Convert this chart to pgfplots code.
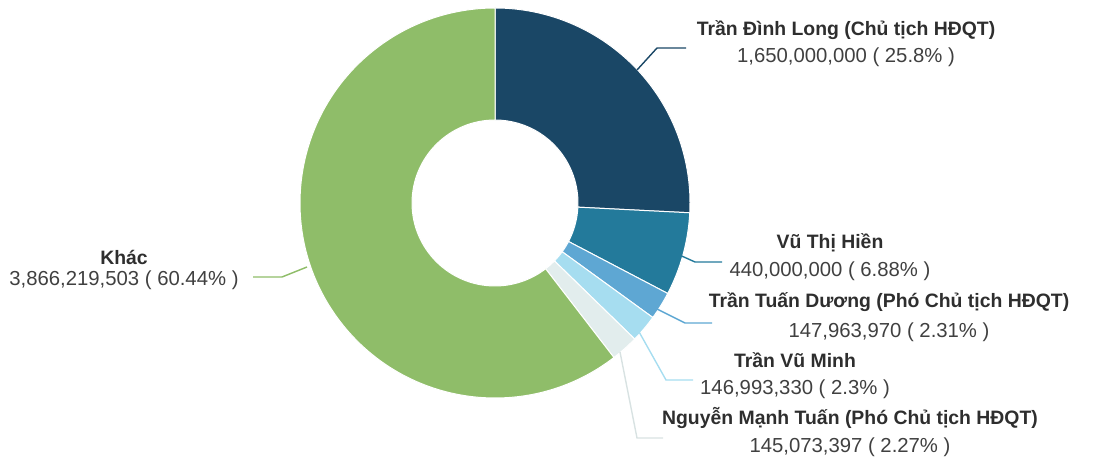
\documentclass[border=0pt]{standalone}
\usepackage{pgfplots}
\pgfplotsset{compat=1.18}
\usepackage{pgfplotstable}
\usepackage{fontspec}
\setmainfont{Liberation Sans}
\definecolor{c1}{HTML}{1A4766}
\definecolor{c2}{HTML}{237A9B}
\definecolor{c3}{HTML}{5EA7D3}
\definecolor{c4}{HTML}{A6DDF0}
\definecolor{c5}{HTML}{E2EDED}
\definecolor{c6}{HTML}{8FBD69}
\definecolor{txtn}{HTML}{2E2E2E}
\definecolor{txtv}{HTML}{404040}

% value, percent, colour
\pgfplotstableread[col sep=comma]{
value,pct,color
1650000000,25.8,c1
440000000,6.88,c2
147963970,2.31,c3
146993330,2.3,c4
145073397,2.27,c5
3866219503,60.44,c6
}\shares
\pgfplotstablegetrowsof{\shares}
\pgfmathtruncatemacro{\N}{\pgfplotsretval-1}

\newcommand{\lbl}[5]{% x, yname, yvalue, name, value
  \node[font=\fontsize{19.4}{22}\selectfont\bfseries, text=txtn, anchor=center] at (axis cs:#1,#2) {#4};
  \node[font=\fontsize{20.3}{22}\selectfont, text=txtv, anchor=center] at (axis cs:#1,#3) {#5};
}

\begin{document}
\begin{tikzpicture}
\begin{axis}[
  width=1099pt, height=462pt, scale only axis,
  xmin=0, xmax=1099, ymin=0, ymax=462,
  hide axis, clip=false,
]
\def\cum{90}
\pgfplotsforeachungrouped \i in {0,...,\N} {
  \pgfplotstablegetelem{\i}{pct}\of{\shares}
  \pgfmathsetmacro{\a}{\cum}
  \pgfmathsetmacro{\b}{\cum-3.6*\pgfplotsretval}
  \pgfplotstablegetelem{\i}{color}\of{\shares}
  \edef\col{\pgfplotsretval}
  \edef\temp{\noexpand\fill[\col, draw=white, line width=1pt, line join=round]
    (axis cs:495,259) ++(\a:195pt) arc[start angle=\a, end angle=\b, radius=195pt]
    -- ++(\b:-112pt) arc[start angle=\b, end angle=\a, radius=83pt] -- cycle;}
  \temp
  \global\let\cum\b
}
% leader lines
\draw[c1, line width=1.4pt] (axis cs:637,392) -- (axis cs:657,414) -- (axis cs:686,414);
\draw[c2, line width=1.4pt] (axis cs:675,209) -- (axis cs:695,200) -- (axis cs:722,200);
\draw[c3, line width=1.4pt] (axis cs:653,155) -- (axis cs:685,139) -- (axis cs:712,139);
\draw[c4, line width=1.4pt] (axis cs:638,132) -- (axis cs:666,82) -- (axis cs:693,82);
\draw[c5!90!gray, line width=1.4pt] (axis cs:620,110) -- (axis cs:637,24) -- (axis cs:663,24);
\draw[c6, line width=1.4pt] (axis cs:307,195) -- (axis cs:282,185) -- (axis cs:253,185);
% labels
\lbl{846}{432}{405}{Trần Đình Long (Chủ tịch HĐQT)}{1,650,000,000 ( 25.8\% )}
\lbl{830}{219}{191}{Vũ Thị Hiền}{440,000,000 ( 6.88\% )}
\lbl{889}{160}{130}{Trần Tuấn Dương (Phó Chủ tịch HĐQT)}{147,963,970 ( 2.31\% )}
\lbl{795}{102}{73}{Trần Vũ Minh}{146,993,330 ( 2.3\% )}
\lbl{850}{44}{15}{Nguyễn Mạnh Tuấn (Phó Chủ tịch HĐQT)}{145,073,397 ( 2.27\% )}
\lbl{124}{205}{182}{Khác}{3,866,219,503 ( 60.44\% )}
\end{axis}
\pgfresetboundingbox
\path (current axis.south west) rectangle (current axis.north east);
\end{tikzpicture}
\end{document}
